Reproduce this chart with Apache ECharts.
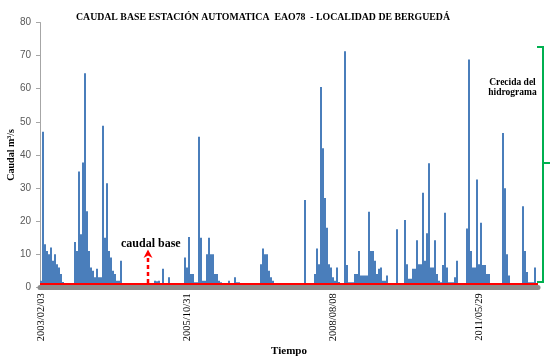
<!DOCTYPE html>
<html><head><meta charset="utf-8">
<script src="https://cdn.jsdelivr.net/npm/echarts@6/dist/echarts.min.js"></script>
<style>html,body{margin:0;padding:0;background:#fff}#c{width:557px;height:360px}</style>
</head><body><div id="c"></div>
<script>
// Caudal (m3/s), one value per ~2 px of the original time axis
const caudal = [
  2,47,13,11,10,12,8,10,7,6,
  4,1.6,0.8,0.6,0.6,0.5,0.6,13.7,11,35,
  16,37.7,64.7,23,11,6,5,3,5.6,3,
  3,48.8,15,31.4,11,9,5,4,2,2,
  8,1,0.9,0.8,1,0.9,0.8,1,1,0.9,
  1,0.8,1,0.9,1,1,1.2,2,1.8,2,
  1,5.6,1,0.9,3,1,0.9,1,1,0.8,
  1,1.2,9,6,15.2,4,4,1.5,1.5,45.5,
  15,2,2,10,15,10,10,4,4,2,
  1.5,1,1,0.9,2,1,1,3,1.5,1.5,
  0.4,0.3,0.4,0.5,0.3,0.4,0.4,0.3,0.5,0.4,
  7,11.7,10,10,5,3,2,0.7,0.6,0.8,
  0.5,0.6,0.7,0.6,0.5,0.8,0.6,0.7,0.6,0.5,
  0.7,0.6,26.4,0.5,0.6,0.5,0.6,4,11.7,7,
  60.5,42,27,18,7,6,3,2,6,1.6,
  0.8,0.8,71.3,6.7,1.5,1.5,1.5,4,4,11,
  3.6,3.6,3.6,3.6,22.8,11,11,8,4,5.6,
  6,2,2,3.6,1,1,1,1,17.5,1,
  1,1,20.3,7,2.6,2.6,5.6,5.6,14.2,7,
  7,28.6,8,16.3,37.5,6,6,14.2,4,2,
  1.5,6.7,22.5,6,1.5,1.5,1.5,3,8,1,
  1,1,1,17.8,68.8,11,6,6,32.6,7,
  19.5,6.7,6.7,4,4,1.3,1.3,1.3,1.3,1.3,
  1.3,46.6,29.9,10,3.6,1.2,1.2,1.2,1.2,1.2,
  1.2,24.5,11,4.6,1.5,1.5,1.5,6,1
];
const tickLabels = ['2003/02/03','2005/10/31','2008/08/08','2011/05/29'];
const tickIndex = [0,73,146,219];
const caudalBase = 1;
const categories = caudal.map((v,i)=>String(i));

const chart = echarts.init(document.getElementById('c'), null, {renderer:'canvas'});
const serif = 'Liberation Serif';
chart.setOption({
  animation:false,
  backgroundColor:'#ffffff',
  title:{
    text:'CAUDAL BASE ESTACIÓN AUTOMATICA  EAO78  - LOCALIDAD DE BERGUEDÁ',
    left:76, top:12, padding:0,
    textStyle:{fontFamily:serif, fontWeight:'bold', fontSize:9.8, color:'#000'}
  },
  grid:{left:40, right:19, top:22.5, bottom:72.7, containLabel:false, outerBoundsMode:'none'},
  xAxis:{
    type:'category', data:categories, z:5,
    axisLine:{lineStyle:{color:'#8c8c8c', width:5}},
    axisTick:{show:false},
    axisLabel:{
      rotate:90, margin:6, fontFamily:serif, fontSize:10.5, color:'#000',
      interval:(idx)=>tickIndex.includes(idx),
      formatter:(v,idx)=>tickLabels[tickIndex.indexOf(idx)] || ''
    },
    name:'Tiempo', nameLocation:'middle', nameGap:58, nameMoveOverlap:false,
    nameTextStyle:{fontFamily:serif, fontWeight:'bold', fontSize:11, color:'#000'}
  },
  yAxis:{
    type:'value', min:0, max:80, interval:10,
    axisLine:{show:true, lineStyle:{color:'#a6a6a6', width:1}},
    axisTick:{show:true, length:4, lineStyle:{color:'#a6a6a6'}},
    axisLabel:{margin:9, fontFamily:'Liberation Sans', fontSize:10, color:'#595959'},
    splitLine:{show:false},
    name:'Caudal m³/s', nameLocation:'middle', nameGap:24, nameMoveOverlap:false,
    nameTextStyle:{fontFamily:serif, fontWeight:'bold', fontSize:10, color:'#000'}
  },
  series:[{
    type:'bar', data:caudal, barCategoryGap:'0%', barGap:'0%',
    itemStyle:{color:'#4a7ebb'},
    markLine:{
      silent:true, symbol:'none', label:{show:false},
      lineStyle:{color:'#ff0000', width:2, type:'solid'},
      data:[{yAxis:caudalBase}]
    }
  }],
  graphic:[
    {type:'line', shape:{x1:148,y1:283,x2:148,y2:256}, style:{stroke:'#ff0000', lineWidth:2.5, lineDash:[4,3]}, z:10},
    {type:'polygon', shape:{points:[[143.5,258],[148,249.5],[152.5,258],[148,255.5]]}, style:{fill:'#ff0000'}, z:10},
    {type:'text', left:121, top:238, style:{text:'caudal base', font:'bold 12px "Liberation Serif"', fill:'#000'}, z:10},
    {type:'polyline', shape:{points:[[537,47],[543,47],[543,282],[537,282]]}, style:{stroke:'#00b050', lineWidth:2, fill:null}, z:10},
    {type:'line', shape:{x1:543,y1:163,x2:550,y2:163}, style:{stroke:'#00b050', lineWidth:2}, z:10},
    {type:'text', x:512.5, y:77, style:{text:'Crecida del\nhidrograma', font:'bold 9.5px "Liberation Serif"', fill:'#000', align:'center', lineHeight:10.5}, z:10}
  ]
});
</script></body></html>
